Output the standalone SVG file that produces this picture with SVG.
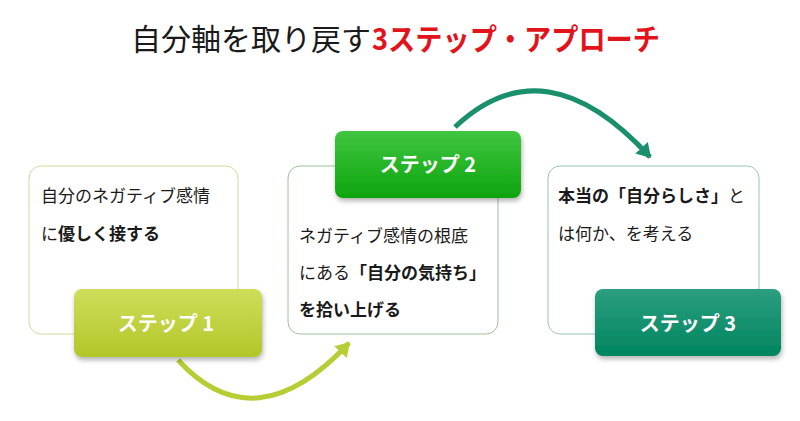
<svg xmlns="http://www.w3.org/2000/svg" width="800" height="421" viewBox="0 0 800 421">
<defs>
<style>
.t{font-family:"Noto Sans CJK JP","Noto Sans",sans-serif;font-size:17px;fill:#1a1a1a}
.b{font-weight:bold}
.btn{font-family:"Noto Sans CJK JP","Noto Sans",sans-serif;font-size:20px;font-weight:bold;fill:#fff;text-anchor:middle}
.box{fill:#fff;stroke-width:1}
</style>
<linearGradient id="g1" x1="0" y1="0" x2="0" y2="1"><stop offset="0" stop-color="#cede5a"/><stop offset="1" stop-color="#b3c628"/></linearGradient>
<linearGradient id="g2" x1="0" y1="0" x2="0" y2="1"><stop offset="0" stop-color="#40c640"/><stop offset="1" stop-color="#0ea40e"/></linearGradient>
<linearGradient id="g3" x1="0" y1="0" x2="0" y2="1"><stop offset="0" stop-color="#2c9e80"/><stop offset="1" stop-color="#00855f"/></linearGradient>
<filter id="sh" x="-10%" y="-10%" width="125%" height="135%"><feDropShadow dx="1" dy="3" stdDeviation="2.5" flood-color="#000" flood-opacity="0.3"/></filter>
<marker id="m1" markerWidth="5" markerHeight="5" refX="2.5" refY="2.5" orient="auto" markerUnits="strokeWidth"><path d="M0,0.8 L2.8,2.5 L0,4.2 Z" fill="#b8cc34"/></marker>
<marker id="m2" markerWidth="5" markerHeight="5" refX="2.5" refY="2.5" orient="auto" markerUnits="strokeWidth"><path d="M0,0.8 L2.8,2.5 L0,4.2 Z" fill="#1a8f6e"/></marker>
</defs>
<rect width="800" height="421" fill="#fff"/>
<text x="131" y="50" font-family="'Noto Sans CJK JP',sans-serif" font-size="30" fill="#1a1a1a">自分軸を取り戻す</text>
<text x="372" y="50" font-family="'Noto Sans CJK JP',sans-serif" font-size="30" font-weight="bold" fill="#e3131b" textLength="288" lengthAdjust="spacingAndGlyphs">3ステップ・アプローチ</text>
<g id="connectors" fill="none">
<path d="M178,360 Q255,444 349,343" stroke="#b8cc34" stroke-width="5" marker-end="url(#m1)"/>
<path d="M455,127 Q545,42 650,157" stroke="#1a8f6e" stroke-width="5" marker-end="url(#m2)"/>
</g>
<g id="step1">
<rect class="box" x="29" y="166" width="209" height="168" rx="12" stroke="#cfdc9c"/>
<text class="t" x="41" y="202">自分のネガティブ感情</text>
<text class="t" x="41" y="240">に<tspan class="b">優しく接する</tspan></text>
<rect x="74" y="289" width="188" height="68" rx="8" fill="url(#g1)" filter="url(#sh)"/>
<text class="btn" x="166" y="331">ステップ 1</text>
</g>
<g id="step2">
<rect class="box" x="288" y="166" width="210" height="168" rx="12" stroke="#9cc09c"/>
<text class="t" x="299" y="242">ネガティブ感情の根底</text>
<text class="t" x="299" y="279">にある<tspan class="b">「自分の気持ち」</tspan></text>
<text class="t b" x="299" y="316">を拾い上げる</text>
<rect x="335" y="131" width="186" height="67" rx="8" fill="url(#g2)" filter="url(#sh)"/>
<text class="btn" x="428" y="172">ステップ 2</text>
</g>
<g id="step3">
<rect class="box" x="548" y="166" width="211" height="168" rx="12" stroke="#9cc4b8"/>
<text class="t" x="558" y="202"><tspan class="b">本当の「自分らしさ」</tspan>と</text>
<text class="t" x="558" y="240">は何か、を考える</text>
<rect x="595" y="289" width="186" height="67" rx="8" fill="url(#g3)" filter="url(#sh)"/>
<text class="btn" x="688" y="331">ステップ 3</text>
</g>
</svg>
